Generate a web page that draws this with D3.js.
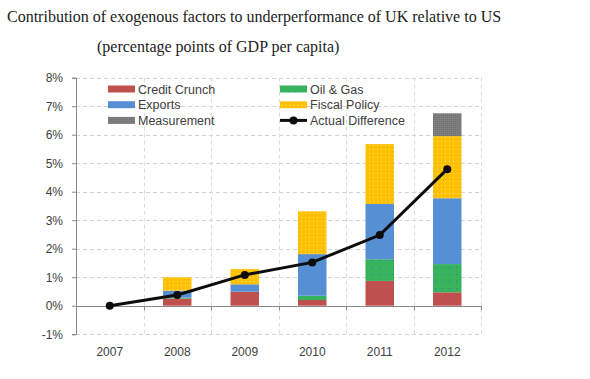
<!DOCTYPE html>
<html><head><meta charset="utf-8">
<script src="https://cdn.jsdelivr.net/npm/d3@7"></script>
<style>body{margin:0;background:#fff;} svg{display:block;}</style>
</head><body>
<svg id="c" width="590" height="379"></svg>
<script>
const years = ["2007","2008","2009","2010","2011","2012"];
const creditCrunch = [0, 0.25, 0.49, 0.20, 0.87, 0.47];
const oilGas       = [0, 0.03, 0.00, 0.15, 0.76, 0.99];
const exports_     = [0, 0.25, 0.26, 1.46, 1.94, 2.31];
const fiscalPolicy = [0, 0.47, 0.54, 1.50, 2.10, 2.18];
const measurement  = [0, 0, 0, 0, 0, 0.80];
const actualDiff   = [0, 0.375, 1.08, 1.52, 2.48, 4.79];
const yTicks = [-1,0,1,2,3,4,5,6,7,8];
const seriesNames = ["Credit Crunch","Oil & Gas","Exports","Fiscal Policy","Measurement"];
const seriesData = [creditCrunch, oilGas, exports_, fiscalPolicy, measurement];
const colors = ["#C0504D","#36B35C","#568FD4","#FFC000","#7F7F7F"];

const svg = d3.select("#c");
const defs = svg.append("defs");
function dotPattern(id, bg, dot, step){
  const p = defs.append("pattern").attr("id",id).attr("patternUnits","userSpaceOnUse")
    .attr("width",step).attr("height",step);
  p.append("rect").attr("width",step).attr("height",step).attr("fill",bg);
  p.append("rect").attr("x",1).attr("y",1).attr("width",1).attr("height",1).attr("fill",dot);
  return "url(#"+id+")";
}
const fills = [
  colors[0],
  dotPattern("pg", colors[1], "#3a6cc0", 7),
  colors[2],
  dotPattern("py", colors[3], "#ffe08a", 4),
  dotPattern("pm", colors[4], "#6e6e6e", 2)
];

// title
svg.append("text").attr("x",7).attr("y",22).attr("font-family","Liberation Serif, serif")
  .attr("font-size",16).attr("fill","#222").text("Contribution of exogenous factors to underperformance of UK relative to US");
svg.append("text").attr("x",97).attr("y",52).attr("font-family","Liberation Serif, serif")
  .attr("font-size",16).attr("fill","#222").text("(percentage points of GDP per capita)");

const x = d3.scaleBand().domain(years).range([76,481]).paddingInner(0).paddingOuter(0);
const y = d3.scaleLinear().domain([-1,8]).range([334.2,77.7]);
const font = "Liberation Sans, Arial, sans-serif";
const txtCol = "#404040";

// horizontal gridlines
svg.append("g").selectAll("line").data(yTicks.filter(d=>d!==0)).join("line")
  .attr("x1",76).attr("x2",481).attr("y1",d=>Math.round(y(d))+0.5).attr("y2",d=>Math.round(y(d))+0.5)
  .attr("stroke","#d4d4d4").attr("stroke-dasharray","4,3");
// vertical gridlines at category boundaries
const bounds = years.map(d=>x(d)+x.bandwidth());
svg.append("g").selectAll("line").data(bounds).join("line")
  .attr("x1",d=>Math.round(d)+0.5).attr("x2",d=>Math.round(d)+0.5).attr("y1",y(8)).attr("y2",y(-1))
  .attr("stroke","#dcdcdc").attr("stroke-dasharray","4,3");

// stacked bars
const stackInput = years.map((yr,i)=>{const o={year:yr}; seriesNames.forEach((n,k)=>o[n]=seriesData[k][i]); return o;});
const stacked = d3.stack().keys(seriesNames)(stackInput);
const bw = 28.5;
stacked.forEach((layer,k)=>{
  svg.append("g").selectAll("rect").data(layer).join("rect")
    .attr("x",d=>x(d.data.year)+x.bandwidth()/2-bw/2)
    .attr("width",bw)
    .attr("y",d=>y(d[1]))
    .attr("height",d=>Math.max(0,y(d[0])-y(d[1])))
    .attr("fill",fills[k]);
});

// y axis
const yAxis = d3.axisLeft(y).tickValues(yTicks).tickFormat(d=>d+"%").tickSize(4);
const ga = svg.append("g").attr("transform","translate(76,0)").call(yAxis);
ga.select(".domain").attr("stroke","#888");
ga.selectAll(".tick line").attr("stroke","#888");
ga.selectAll(".tick text").attr("font-family",font).attr("font-size",12).attr("fill",txtCol).attr("x",-13);

// zero line and x ticks
svg.append("line").attr("x1",76).attr("x2",481).attr("y1",Math.round(y(0))+0.5).attr("y2",Math.round(y(0))+0.5).attr("stroke","#888");
svg.append("g").selectAll("line").data(bounds).join("line")
  .attr("x1",d=>Math.round(d)+0.5).attr("x2",d=>Math.round(d)+0.5)
  .attr("y1",Math.round(y(0))).attr("y2",Math.round(y(0))+4).attr("stroke","#888");

// x labels
svg.append("g").selectAll("text").data(years).join("text")
  .attr("x",d=>x(d)+x.bandwidth()/2).attr("y",356).attr("text-anchor","middle")
  .attr("font-family",font).attr("font-size",12).attr("fill",txtCol).text(d=>d);

// line
const line = d3.line().x((d,i)=>x(years[i])+x.bandwidth()/2).y(d=>y(d));
svg.append("path").datum(actualDiff).attr("d",line).attr("fill","none").attr("stroke","#0d0d0d").attr("stroke-width",3);
svg.append("g").selectAll("circle").data(actualDiff).join("circle")
  .attr("cx",(d,i)=>x(years[i])+x.bandwidth()/2).attr("cy",d=>y(d)).attr("r",4).attr("fill","#0d0d0d");

// legend
const legItems = [
  {n:"Credit Crunch",k:0,c:0,r:0},{n:"Oil & Gas",k:1,c:1,r:0},
  {n:"Exports",k:2,c:0,r:1},{n:"Fiscal Policy",k:3,c:1,r:1},
  {n:"Measurement",k:4,c:0,r:2},{n:"Actual Difference",k:-1,c:1,r:2}
];
const lg = svg.append("g");
legItems.forEach(it=>{
  const sx = it.c===0?108:280, cy = 89+it.r*15.7;
  if(it.k>=0){
    lg.append("rect").attr("x",sx).attr("y",cy-3.5).attr("width",27).attr("height",7).attr("fill",fills[it.k]);
  } else {
    lg.append("line").attr("x1",sx).attr("x2",sx+27).attr("y1",cy).attr("y2",cy).attr("stroke","#0d0d0d").attr("stroke-width",3);
    lg.append("circle").attr("cx",sx+13.5).attr("cy",cy).attr("r",4).attr("fill","#0d0d0d");
  }
  lg.append("text").attr("x",sx+30).attr("y",cy+4.5).attr("font-family",font).attr("font-size",12.5)
    .attr("fill",txtCol).text(it.n);
});
</script>
</body></html>
